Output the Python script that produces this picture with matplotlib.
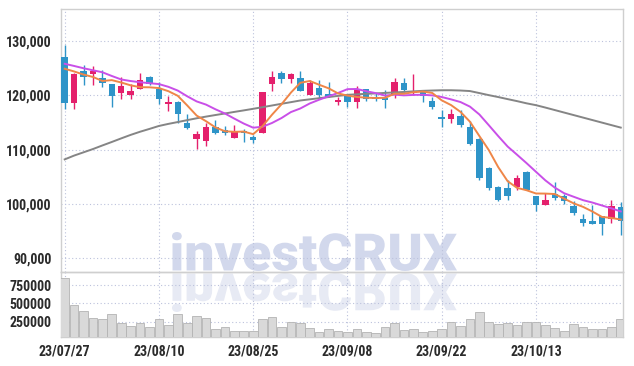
import matplotlib
matplotlib.use("Agg")
import matplotlib.pyplot as plt
from matplotlib import font_manager
from matplotlib.textpath import TextPath
from matplotlib.patches import PathPatch
from matplotlib.font_manager import FontProperties
from matplotlib.transforms import Affine2D
from matplotlib.ticker import FuncFormatter

# ---------------- data ----------------
tick_labels = ["23/07/27", "23/08/10", "23/08/25", "23/09/08", "23/09/22", "23/10/13"]
tick_index = [0, 10, 20, 30, 40, 50]

opens = [127000, 118500, 124500, 123800, 123100, 122000, 120400, 120000, 121100, 123400,
         121200, 118400, 118700, 114800, 111900, 111600, 114100, 113600, 112100, 113400,
         112300, 113000, 122000, 124000, 122900, 123100, 120000, 121400, 120200, 118900,
         120100, 118700, 121200, 119600, 119400, 120000, 122300, 120500, 120900, 119000,
         115900, 115700, 116100, 114100, 112000, 106600, 103100, 102900, 103200, 105900,
         101400, 99900, 101900, 101400, 99600, 97200, 96900, 97800, 97300, 99400]
highs = [129300, 124000, 125600, 125300, 124700, 122000, 123300, 122100, 124000, 123500,
         122500, 119800, 119000, 116500, 113500, 114800, 115400, 114400, 114600, 113700,
         112700, 120500, 124500, 124400, 124000, 124500, 122700, 122700, 122500, 119600,
         120300, 121600, 121200, 120400, 120900, 123200, 123200, 123900, 121000, 119600,
         117200, 117500, 117300, 115200, 112100, 106800, 103300, 104500, 105400, 106000,
         101500, 102100, 104100, 101900, 100500, 98200, 99800, 97800, 100800, 100400]
lows = [117500, 117500, 121900, 121800, 121500, 117900, 119300, 119200, 121100, 121800,
        118300, 117000, 114800, 113700, 110200, 110600, 112900, 112600, 112100, 111400,
        111200, 113000, 120700, 122200, 122300, 120700, 120000, 119500, 119600, 118100,
        117800, 117700, 119000, 119000, 117700, 119400, 120600, 120100, 118800, 117500,
        114100, 114900, 114100, 110900, 104500, 102500, 100500, 100800, 102600, 102500,
        98800, 99900, 100800, 100100, 97900, 95900, 96300, 94300, 96600, 94300]
closes = [118500, 123800, 123300, 124500, 122200, 119900, 121600, 120700, 122800, 122100,
          119300, 118700, 116500, 113900, 112800, 114100, 113000, 113000, 113400, 113000,
          111700, 120500, 123400, 122900, 123800, 120700, 122200, 120000, 119600, 119100,
          118700, 120900, 119300, 119300, 119300, 122500, 120900, 120700, 119900, 117900,
          115800, 116500, 114500, 111000, 104800, 102900, 100800, 101500, 104800, 102600,
          99900, 100700, 101200, 100500, 98300, 96600, 96400, 96300, 99600, 96900]

ma5 = [124850, 124350, 123780, 123340, 122600, 122760, 122320, 121800, 121460, 121440,
       121300, 120730, 119880, 118110, 116250, 115210, 114070, 113370, 113260, 113310,
       112830, 114330, 116410, 118310, 120460, 122270, 122600, 121910, 121260, 120320,
       119920, 119660, 119530, 119470, 119510, 120260, 120260, 120540, 120660, 120400,
       119050, 118170, 116920, 115120, 112490, 109910, 106780, 104190, 102970, 102540,
       101940, 101920, 101840, 100990, 100130, 99480, 98620, 97640, 97450, 97150]
ma10 = [125760, 125360, 124940, 124570, 124200, 123520, 122880, 122590, 122370, 122200,
        122030, 121530, 120840, 119790, 118850, 118260, 117400, 116630, 115690, 114780,
        114020, 114200, 114890, 115790, 116890, 117550, 118470, 119160, 119790, 120390,
        121100, 121130, 120720, 120370, 119920, 120090, 119960, 120040, 120070, 119960,
        119660, 119220, 118730, 117890, 116450, 114480, 112480, 110560, 109050, 107520,
        105930, 104350, 103020, 101980, 101340, 100710, 100270, 99740, 99220, 98640]
ma60 = [108200, 108900, 109500, 110100, 110760, 111400, 112060, 112700, 113280, 113800,
        114340, 114720, 115060, 115410, 115750, 116060, 116350, 116630, 116920, 117200,
        117490, 117790, 118100, 118410, 118710, 119020, 119230, 119440, 119650, 119860,
        120060, 120150, 120240, 120320, 120410, 120500, 120590, 120690, 120790, 120850,
        120900, 120900, 120850, 120750, 120380, 120000, 119650, 119270, 118900, 118500,
        118160, 117720, 117260, 116800, 116340, 115880, 115420, 114960, 114500, 114040]

volumes = [846000, 479000, 397000, 297000, 283000, 352000, 228000, 191000, 228000, 173000,
           283000, 205000, 352000, 228000, 328000, 297000, 146000, 173000, 127000, 127000,
           127000, 283000, 310000, 173000, 250000, 228000, 159000, 113000, 146000, 127000,
           113000, 146000, 104000, 91000, 182000, 228000, 136000, 146000, 104000, 127000,
           146000, 250000, 191000, 283000, 388000, 250000, 214000, 228000, 200000, 241000,
           241000, 200000, 159000, 118000, 214000, 173000, 146000, 146000, 173000, 283000]

price_ticks = [90000, 100000, 110000, 120000, 130000]
volume_ticks = [250000, 500000, 750000]

# ---------------- style ----------------
W, H = 634, 366
UP = "#e4206c"
DOWN = "#2e94c8"
GRID = "#bcc2dc"
SPINE = "#cfcfcf"
TXT = "#2b2b2b"

available = {f.name for f in font_manager.fontManager.ttflist}
lab_family = next(f for f in ["Liberation Sans Narrow", "Roboto Condensed", "Roboto", "DejaVu Sans"]
                  if f in available)
wm_family = next(f for f in ["Roboto", "Lato", "Inter", "Liberation Sans", "DejaVu Sans"] if f in available)

fig = plt.figure(figsize=(W / 100, H / 100), dpi=100, facecolor="white")

# watermark layer (pixel coordinates, origin top-left)
wm = fig.add_axes([0, 0, 1, 1], zorder=0)
wm.set_xlim(0, W)
wm.set_ylim(H, 0)
wm.axis("off")
tp = TextPath((0, 0), "investCRUX", size=100, prop=FontProperties(family=wm_family, weight=900))
bb = tp.get_extents()
x0, x1, ytop, ybase = 172, 457, 232, 271
sx = (x1 - x0) / bb.width
sy = (ybase - ytop) / bb.height
t_main = Affine2D().translate(-bb.x0, -bb.y0).scale(sx, -sy).translate(x0, ybase)
t_refl = Affine2D().translate(-bb.x0, -bb.y0).scale(sx, sy).translate(x0, ybase + 2)
wm.add_patch(PathPatch(t_main.transform_path(tp), facecolor="#d2d8ec", edgecolor="none"))
wm.add_patch(PathPatch(t_refl.transform_path(tp), facecolor="#e7eaf4", edgecolor="none"))

L, R = 61 / W, 623.3 / W
ax = fig.add_axes([L, (H - 272) / H, R - L, (272 - 9) / H], zorder=2)
axv = fig.add_axes([L, (H - 337.3) / H, R - L, (337.3 - 272) / H], zorder=2, sharex=ax)
for a in (ax, axv):
    a.set_facecolor("none")
    for s in a.spines.values():
        s.set_color(SPINE)
        s.set_linewidth(1.0)
    a.tick_params(length=0, labelsize=10, colors=TXT, pad=7)
    a.set_axisbelow(True)

n = len(closes)
idx = list(range(n))
body_w = 0.68
for i in idx:
    o, h, l, c = opens[i], highs[i], lows[i], closes[i]
    col = UP if c >= o else DOWN
    ax.vlines(i, l, h, color=col, lw=1.0, zorder=3)
    lo, hi = min(o, c), max(o, c)
    ax.bar(i, max(hi - lo, 250), bottom=lo if hi - lo >= 250 else lo - 125, width=body_w,
           color=col, edgecolor="none", zorder=4)

ax.plot(idx, ma60, color="#858585", lw=1.4, zorder=5)
ax.plot(idx, ma10, color="#c94fe8", lw=1.4, zorder=5)
ax.plot(idx, ma5, color="#ef8648", lw=1.4, zorder=5)

axv.bar(idx, volumes, width=0.92, color="#d9d9d9", edgecolor="#b3b3b3", linewidth=0.6, zorder=3)

ax.set_xlim(-0.39, 59.27)
ax.set_ylim(87520, 135820)
axv.set_ylim(35900, 932500)

ax.set_yticks(price_ticks)
ax.yaxis.set_major_formatter(FuncFormatter(lambda v, p: f"{int(v):,}"))
axv.set_yticks(volume_ticks)
axv.yaxis.set_major_formatter(FuncFormatter(lambda v, p: f"{int(v)}"))
axv.set_xticks(tick_index)
axv.set_xticklabels(tick_labels)
ax.tick_params(axis="x", labelbottom=False)

for a in (ax, axv):
    a.grid(True, color=GRID, linestyle=(0, (1, 2.2)), linewidth=0.8)
    for lab in a.get_yticklabels() + a.get_xticklabels():
        lab.set_fontfamily(lab_family)
        lab.set_fontweight("bold")
axv.tick_params(axis="x", pad=5)

fig.savefig("out.png", dpi=100, facecolor="white")
